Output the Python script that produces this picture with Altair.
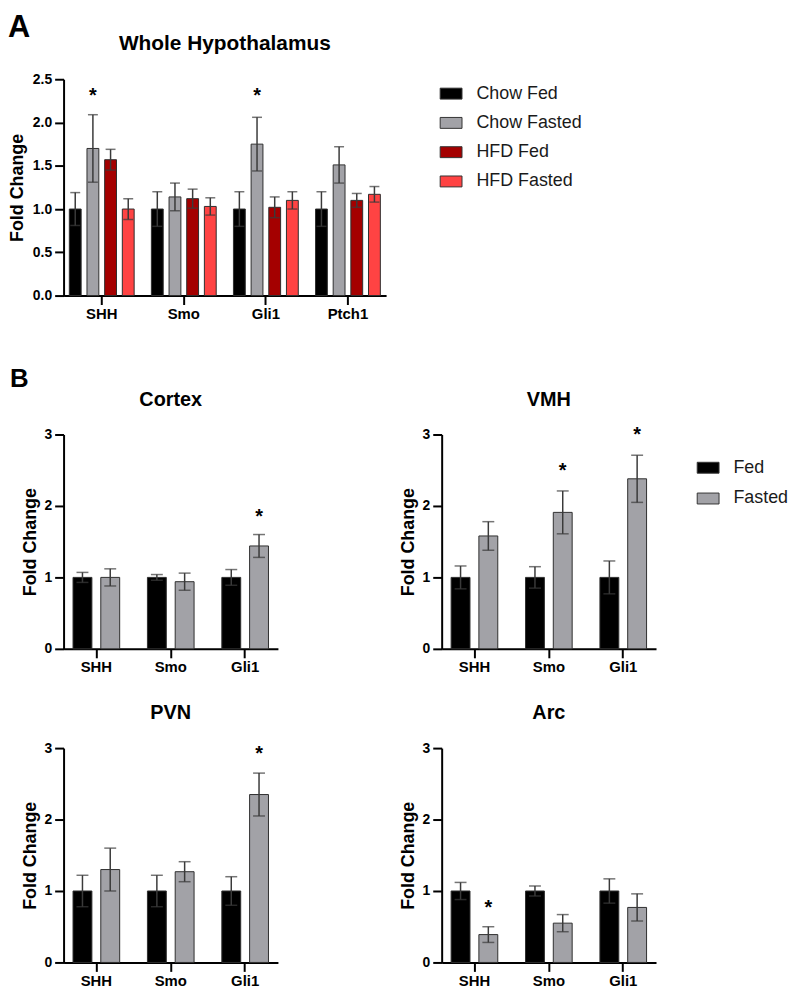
import altair as alt
import pandas as pd

FONT = "Liberation Sans"
ERR = "#3a3a3a"
EDGE = "#2e2e2e"

# ---------------- Panel A : Whole Hypothalamus ----------------
genes_a = ["SHH", "Smo", "Gli1", "Ptch1"]
groups_a = ["Chow Fed", "Chow Fasted", "HFD Fed", "HFD Fasted"]
colors_a = ["#000000", "#a2a2a7", "#a40000", "#ff4343"]
chow_fed_mean = [1.00, 1.00, 1.00, 1.00]
chow_fed_sem = [0.19, 0.20, 0.20, 0.20]
chow_fasted_mean = [1.70, 1.14, 1.75, 1.51]
chow_fasted_sem = [0.39, 0.16, 0.31, 0.21]
hfd_fed_mean = [1.57, 1.12, 1.02, 1.10]
hfd_fed_sem = [0.12, 0.11, 0.12, 0.08]
hfd_fasted_mean = [1.00, 1.03, 1.10, 1.17]
hfd_fasted_sem = [0.12, 0.10, 0.10, 0.09]
stars_a_gene = ["SHH", "Gli1"]
stars_a_group = ["Chow Fasted", "Chow Fasted"]
stars_a_y = [2.36, 2.36]

# ---------------- Panel B : regions ----------------
genes_b = ["SHH", "Smo", "Gli1"]
groups_b = ["Fed", "Fasted"]
colors_b = ["#000000", "#a2a2a7"]

cortex_fed_mean = [1.00, 1.00, 1.00]
cortex_fed_sem = [0.07, 0.04, 0.11]
cortex_fasted_mean = [1.00, 0.94, 1.44]
cortex_fasted_sem = [0.12, 0.12, 0.16]
cortex_star_gene = ["Gli1"]
cortex_star_y = [1.92]

vmh_fed_mean = [1.00, 1.00, 1.00]
vmh_fed_sem = [0.16, 0.15, 0.23]
vmh_fasted_mean = [1.58, 1.91, 2.38]
vmh_fasted_sem = [0.20, 0.30, 0.33]
vmh_star_gene = ["Smo", "Gli1"]
vmh_star_y = [2.56, 3.06]

pvn_fed_mean = [1.00, 1.00, 1.00]
pvn_fed_sem = [0.22, 0.22, 0.20]
pvn_fasted_mean = [1.30, 1.27, 2.35]
pvn_fasted_sem = [0.30, 0.14, 0.30]
pvn_star_gene = ["Gli1"]
pvn_star_y = [2.99]

arc_fed_mean = [1.00, 1.00, 1.00]
arc_fed_sem = [0.12, 0.07, 0.17]
arc_fasted_mean = [0.39, 0.55, 0.77]
arc_fasted_sem = [0.11, 0.12, 0.19]
arc_star_gene = ["SHH"]
arc_star_y = [0.83]

panel_letters = ["A", "B"]
panel_titles = ["Whole Hypothalamus", "Cortex", "VMH", "PVN", "Arc"]


def table(genes, groups, means, sems):
    rows = []
    for grp, m, s in zip(groups, means, sems):
        for g, mv, sv in zip(genes, m, s):
            rows.append({"gene": g, "group": grp, "mean": mv,
                         "lo": mv - sv, "hi": mv + sv})
    return pd.DataFrame(rows)


def panel(df, stars_df, genes, groups, colors, ydom, yvals, yfmt, width,
          height, title, title_size, legend, letter, pad_in, pad_out,
          sub_pad, cap, title_pad, letter_xy):
    x = alt.X("gene:N", sort=genes,
              scale=alt.Scale(type="band", domain=genes, paddingInner=pad_in,
                              paddingOuter=pad_out),
              axis=alt.Axis(title=None, labelAngle=0))
    xo = alt.XOffset("group:N", sort=groups,
                     scale=alt.Scale(type="band", domain=groups,
                                     paddingInner=sub_pad, paddingOuter=0))

    def y(field):
        return alt.Y(field, scale=alt.Scale(domain=ydom, nice=False),
                     axis=alt.Axis(title="Fold Change", values=yvals,
                                   format=yfmt, titlePadding=title_pad))

    base = alt.Chart(df)
    bars = base.mark_bar(stroke=EDGE, strokeWidth=1).encode(
        x=x, xOffset=xo, y=y("mean:Q"),
        color=alt.Color("group:N",
                        scale=alt.Scale(domain=groups, range=colors),
                        legend=legend))
    err = base.mark_rule(color=ERR, strokeWidth=1.5).encode(
        x=x, xOffset=xo, y=y("lo:Q"), y2="hi:Q")
    cap_hi = base.mark_tick(color=ERR, thickness=1.5, size=cap).encode(
        x=x, xOffset=xo, y=y("hi:Q"))
    cap_lo = base.mark_tick(color=ERR, thickness=1.5, size=cap).encode(
        x=x, xOffset=xo, y=y("lo:Q"))
    stars = alt.Chart(stars_df).mark_text(
        text="*", font=FONT, fontSize=20, fontWeight="bold",
        baseline="middle", dy=5, color="black").encode(
        x=x, xOffset=xo, y=y("y:Q"))
    ttl = alt.Chart(pd.DataFrame({"t": [title]})).mark_text(
        font=FONT, fontSize=title_size, fontWeight="bold", align="center",
        baseline="alphabetic", color="black").encode(
        text="t:N", x=alt.value(width / 2), y=alt.value(-29))
    layers = [bars, err, cap_hi, cap_lo, stars, ttl]
    if letter is not None:
        lt = alt.Chart(pd.DataFrame({"letter": [letter]})).mark_text(
            font=FONT, fontSize=letter_xy[2], fontWeight="bold",
            align="left", baseline="top", color="black").encode(
            text="letter:N", x=alt.value(letter_xy[0]),
            y=alt.value(letter_xy[1]))
        layers.append(lt)
    return alt.layer(*layers).properties(width=width, height=height)


# ---- A ----
df_a = table(genes_a, groups_a,
             [chow_fed_mean, chow_fasted_mean, hfd_fed_mean, hfd_fasted_mean],
             [chow_fed_sem, chow_fasted_sem, hfd_fed_sem, hfd_fasted_sem])
stars_a = pd.DataFrame({"gene": stars_a_gene, "group": stars_a_group,
                        "y": stars_a_y})
legend_a = alt.Legend(title=None, orient="none", legendX=379, legendY=3,
                      symbolType="M-1,-0.5H1V0.5H-1Z", symbolSize=484,
                      symbolStrokeColor="#333333", symbolStrokeWidth=1,
                      labelFont=FONT, labelFontSize=18, labelColor="#1a1a1a",
                      labelOffset=14, rowPadding=8.5, padding=0)
chart_a = panel(df_a, stars_a, genes_a, groups_a, colors_a, [0, 2.5],
                [0, 0.5, 1.0, 1.5, 2.0, 2.5], ".1f", 325, 218,
                panel_titles[0], 21, legend_a, panel_letters[0],
                0.21, 0.07, 0.33, 10, 5.5, (-56, -67, 31))


def region(title, fm, fs, sm, ss, sg, sy, legend=None, letter=None):
    df = table(genes_b, groups_b, [fm, sm], [fs, ss])
    st = pd.DataFrame({"gene": sg, "group": ["Fasted"] * len(sg), "y": sy})
    return panel(df, st, genes_b, groups_b, colors_b, [0, 3], [0, 1, 2, 3],
                 "d", 216, 216, title, 20, legend, letter,
                 0.373, 0.127, 0.32, 12, 5, (-54, -69, 26))


legend_b = alt.Legend(title=None, orient="none", legendX=257, legendY=22,
                      symbolType="M-1,-0.5H1V0.5H-1Z", symbolSize=484,
                      symbolStrokeColor="#333333", symbolStrokeWidth=1,
                      labelFont=FONT, labelFontSize=18, labelColor="#1a1a1a",
                      labelOffset=14, rowPadding=10, padding=0)

cortex = region(panel_titles[1], cortex_fed_mean, cortex_fed_sem,
                cortex_fasted_mean, cortex_fasted_sem, cortex_star_gene,
                cortex_star_y, letter=panel_letters[1])
vmh = region(panel_titles[2], vmh_fed_mean, vmh_fed_sem, vmh_fasted_mean,
             vmh_fasted_sem, vmh_star_gene, vmh_star_y, legend=legend_b)
pvn = region(panel_titles[3], pvn_fed_mean, pvn_fed_sem, pvn_fasted_mean,
             pvn_fasted_sem, pvn_star_gene, pvn_star_y)
arc = region(panel_titles[4], arc_fed_mean, arc_fed_sem, arc_fasted_mean,
             arc_fasted_sem, arc_star_gene, arc_star_y)

spacer = alt.Chart(pd.DataFrame({"v": [0]})).mark_point(opacity=0).properties(
    width=217, height=258)

chart = alt.concat(
    chart_a, spacer, cortex, vmh, pvn, arc,
    columns=2, spacing={"row": 100, "column": 56}, bounds="flush",
    align="each", padding=0,
).resolve_scale(
    color="independent", xOffset="independent", x="independent",
    y="independent",
).configure_view(stroke=None).configure_axis(
    domainColor="black", domainWidth=2, tickColor="black", tickWidth=2,
    tickSize=9, labelFont=FONT, labelFontWeight="bold", labelColor="black",
    labelFontSize=14, labelPadding=3, titleFont=FONT, titleFontWeight="bold",
    titleFontSize=18, titleColor="black", grid=False,
).configure_axisX(labelFontSize=15, labelPadding=2)

chart.save("out.html", embed_options={"renderer": "svg", "actions": False})
